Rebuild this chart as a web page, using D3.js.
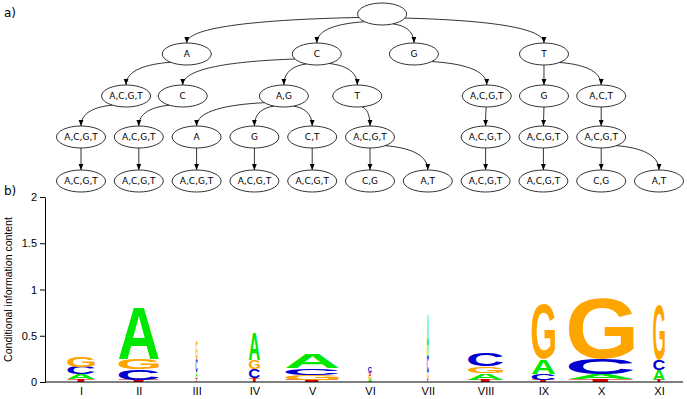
<!DOCTYPE html>
<html><head><meta charset="utf-8">
<script src="https://cdn.jsdelivr.net/npm/d3@7"></script>
<style>body{margin:0;background:#fff}svg{display:block}</style>
</head><body>
<script>
// ---------- DATA ----------
const columns = ["I","II","III","IV","V","VI","VII","VIII","IX","X","XI"];
const letters = ["A","C","G","T"];
const valA = [0.055,0.56,0.07,0.29,0.155,0.03,0.43,0.07,0.16,0.05,0.11];
const valC = [0.08,0.11,0.14,0.095,0.075,0.05,0.20,0.14,0.07,0.17,0.115];
const valG = [0.115,0.115,0.20,0.10,0.055,0.04,0.06,0.075,0.60,0.65,0.60];
const valT = [0.03,0.025,0.04,0.04,0.025,0.04,0.03,0.025,0.02,0.03,0.02];
const colWeight = [0.42,0.62,0.03,0.17,0.82,0.06,0.03,0.54,0.36,1.0,0.18];
const yTicks = [0,0.5,1,1.5,2];

const treeLabels = ["","A","C","G","T",
  "A,C,G,T","C","A,G","T","A,C,G,T","G","A,C,T",
  "A,C,G,T","A,C,G,T","A","G","C,T","A,C,G,T","A,C,G,T","A,C,G,T","A,C,G,T",
  "A,C,G,T","A,C,G,T","A,C,G,T","A,C,G,T","A,C,G,T","C,G","A,T","A,C,G,T","A,C,G,T","C,G","A,T"];
const treeParents = [-1,0,0,0,0,
  1,2,2,2,3,4,4,
  5,6,7,7,7,8,9,10,11,
  12,13,14,15,16,17,17,18,19,20,20];
const treeDepth = [0,1,1,1,1, 2,2,2,2,2,2,2, 3,3,3,3,3,3,3,3,3, 4,4,4,4,4,4,4,4,4,4,4];
const treeSlot = [5.21,1.83,4.08,5.76,8.01,
  0.78,1.76,3.51,4.78,7.02,8.01,9.0,
  0,1,2,3,4,5,7,8,9,
  0,1,2,3,4,5,6,7,8,9,10];

// ---------- SETUP ----------
const W = 687, H = 399;
const svg = d3.select("body").append("svg").attr("width",W).attr("height",H);
const colorMap = {A:"#00e800", C:"#0000d0", G:"#ffa500", T:"#e00000"};

const x = d3.scalePoint().domain(columns).range([81,659]);
const slotX = d3.scaleLinear().domain([0,10]).range([81,659]);
const depthY = d3.scaleLinear().domain([0,1,2,3,4]).range([14,54,96,137,181]);
const y = d3.scaleLinear().domain([0,2]).range([382,197]);
const wScale = d3.scaleLinear().domain([0,1]).range([0,65]);

// ---------- TREE ----------
const rx = 24.5, ry = 11;
const defs = svg.append("defs");
defs.append("marker").attr("id","arr").attr("viewBox","0 0 10 10")
  .attr("refX",10).attr("refY",5).attr("markerWidth",6).attr("markerHeight",6)
  .attr("markerUnits","userSpaceOnUse").attr("orient","auto")
  .append("path").attr("d","M0,1L10,5L0,9Z").attr("fill","#000");

const nodes = treeLabels.map((l,i)=>({id:i,label:l,parent:treeParents[i],
  x:slotX(treeSlot[i]), y:depthY(treeDepth[i])}));
const tg = svg.append("g");
nodes.filter(n=>n.parent>=0).forEach(n=>{
  const p = nodes[n.parent];
  const ex = n.x, ey = n.y - ry;
  let d;
  if (Math.abs(ex-p.x) < 1) {
    d = `M${p.x},${p.y+ry}L${ex},${ey}`;
  } else {
    const a = Math.atan2((ey-p.y)/ry, (ex-p.x)/rx);
    const sx = p.x + rx*Math.cos(a), sy = p.y + ry*Math.sin(a);
    const c1x = sx + (ex-sx)*0.55, c1y = sy + (ey-sy)*0.08;
    const c2x = ex, c2y = sy + (ey-sy)*0.35;
    d = `M${sx},${sy}C${c1x},${c1y} ${c2x},${c2y} ${ex},${ey}`;
  }
  tg.append("path").attr("d",d).attr("fill","none").attr("stroke","#000")
    .attr("stroke-width",0.8).attr("marker-end","url(#arr)");
});
const ng = tg.selectAll("g.node").data(nodes).join("g")
  .attr("transform",d=>`translate(${d.x},${d.y})`);
ng.append("ellipse").attr("rx",rx).attr("ry",ry).attr("fill","#fff")
  .attr("stroke","#000").attr("stroke-width",0.8);
ng.append("text").text(d=>d.label).attr("text-anchor","middle").attr("dy","0.35em")
  .attr("font-family","DejaVu Sans").attr("font-size",9).attr("fill","#000");

svg.append("text").text("a)").attr("x",4).attr("y",17)
  .attr("font-family","DejaVu Sans").attr("font-size",12);
svg.append("text").text("b)").attr("x",4).attr("y",195)
  .attr("font-family","DejaVu Sans").attr("font-size",12);

// ---------- LOGO ----------
const FONT = "bold 100px 'Liberation Sans'";
const ctx = document.createElement("canvas").getContext("2d");
ctx.font = FONT;
const metrics = {};
letters.forEach(L=>{
  const m = ctx.measureText(L);
  metrics[L] = {left:m.actualBoundingBoxLeft, right:m.actualBoundingBoxRight,
    asc:m.actualBoundingBoxAscent, desc:m.actualBoundingBoxDescent};
});

const vals = {A:valA, C:valC, G:valG, T:valT};
const lg = svg.append("g");
columns.forEach((c,i)=>{
  const stack = letters.map(L=>({L, v:vals[L][i]})).sort((a,b)=>a.v-b.v);
  const w = wScale(colWeight[i]);
  const x0 = x(c) - w/2;
  let cum = 0;
  stack.forEach(s=>{
    const yb = y(cum), yt = y(cum+s.v);
    cum += s.v;
    const m = metrics[s.L];
    const iw = m.left+m.right, ih = m.asc+m.desc;
    const h = yb-yt;
    if (h <= 0) return;
    lg.append("text").text(s.L)
      .attr("font-family","Liberation Sans").attr("font-weight","bold").attr("font-size",100)
      .attr("fill",colorMap[s.L])
      .attr("transform",`translate(${x0},${yt}) scale(${w/iw},${h/ih}) translate(${m.left},${m.asc})`);
  });
});

// axes
const ya = svg.append("g").attr("transform","translate(45,0)")
  .call(d3.axisLeft(y).tickValues(yTicks).tickFormat(d=>d).tickSize(5).tickSizeOuter(0));
ya.selectAll("text").attr("font-family","Liberation Sans").attr("font-size",11).attr("fill","#000");
ya.select(".domain").attr("stroke","#000");

const xa = svg.append("g").attr("transform","translate(0,382)")
  .call(d3.axisBottom(x).tickSize(0).tickPadding(5));
xa.select(".domain").remove();
xa.selectAll("text").attr("font-family","Liberation Sans").attr("font-size",11).attr("fill","#000");
svg.append("line").attr("x1",45).attr("x2",683).attr("y1",y(0)).attr("y2",y(0))
  .attr("stroke","#000").attr("stroke-width",1);

svg.append("text").text("Conditional information content")
  .attr("transform",`translate(12,${(y(0)+y(2))/2}) rotate(-90)`)
  .attr("text-anchor","middle").attr("font-family","Liberation Sans").attr("font-size",10.5);
</script>
</body></html>
